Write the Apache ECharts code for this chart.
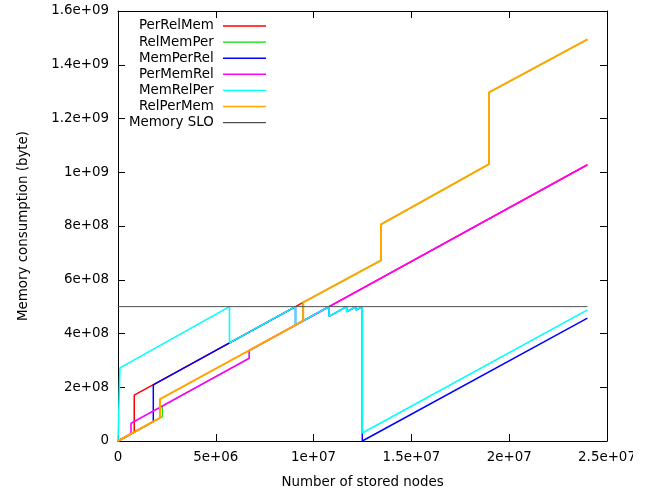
<!DOCTYPE html>
<html>
<head>
<meta charset="utf-8">
<script src="https://cdn.jsdelivr.net/npm/echarts@6/dist/echarts.min.js"></script>
<style>
html,body{margin:0;padding:0;background:#fff;}
#chart{width:633px;height:495px;}
</style>
</head>
<body>
<div id="chart"></div>
<script>
// Tick labels (gnuplot %g style)
const xTickLabels = ['0', '5e+06', '1e+07', '1.5e+07', '2e+07', '2.5e+07'];
const yTickLabels = ['0', '2e+08', '4e+08', '6e+08', '8e+08', '1e+09', '1.2e+09', '1.4e+09', '1.6e+09'];

// Series names
const seriesNames = ['PerRelMem', 'RelMemPer', 'MemPerRel', 'PerMemRel', 'MemRelPer', 'RelPerMem', 'Memory SLO'];

// Vertices [stored nodes, bytes]
const perRelMem = [[0, 0], [8.3e5, 3.3e7], [8.3e5, 1.71e8], [9.47e6, 5.16e8], [9.47e6, 4.47e8], [2.4e7, 1.028e9]];
const relMemPer = [[0, 0], [2.265e6, 9.06e7], [2.265e6, 1.3e8], [6.71e6, 3.08e8], [6.71e6, 3.37e8], [9.47e6, 4.47e8],
  [9.47e6, 5.16e8], [1.3446e7, 6.72e8], [1.3446e7, 8.06e8], [1.8967e7, 1.03e9], [1.8967e7, 1.297e9], [2.4e7, 1.494e9]];
const memPerRel = [[0, 0], [1.805e6, 7.22e7], [1.805e6, 2.09e8], [9.075e6, 5.0e8], [9.075e6, 4.32e8], [1.079e7, 5.0e8],
  [1.079e7, 4.64e8], [1.169e7, 5.0e8], [1.169e7, 4.81e8], [1.2165e7, 5.0e8], [1.2165e7, 4.87e8], [1.249e7, 5.0e8],
  [1.249e7, 0], [2.4e7, 4.57e8]];
const perMemRel = [[0, 0], [6.65e5, 2.66e7], [6.65e5, 6.59e7], [6.71e6, 3.08e8], [6.71e6, 3.37e8], [2.4e7, 1.028e9]];
const memRelPer = [[0, 0], [1e5, 4e6], [1e5, 2.72e8], [5.7e6, 5.0e8], [5.7e6, 3.65e8], [9.075e6, 5.0e8], [9.075e6, 4.32e8],
  [1.079e7, 5.0e8], [1.079e7, 4.64e8], [1.169e7, 5.0e8], [1.169e7, 4.81e8], [1.2165e7, 5.0e8], [1.2165e7, 4.87e8],
  [1.249e7, 5.0e8], [1.249e7, 3.0e7], [2.4e7, 4.88e8]];
const relPerMem = [[0, 0], [2.147e6, 8.59e7], [2.147e6, 1.556e8], [9.47e6, 4.47e8], [9.47e6, 5.16e8], [1.3446e7, 6.72e8],
  [1.3446e7, 8.06e8], [1.8967e7, 1.03e9], [1.8967e7, 1.297e9], [2.4e7, 1.494e9]];
const memorySLO = [[0, 5e8], [2.4e7, 5e8]];

const seriesData = [perRelMem, relMemPer, memPerRel, perMemRel, memRelPer, relPerMem, memorySLO];
const seriesColors = ['#ff0000', '#00dd00', '#0000ff', '#ff00ff', '#00ffff', '#ffa500', '#505050'];
const seriesWidths = [1.5, 1.2, 1.5, 1.6, 1.6, 2.0, 1];

const FONT = 'DejaVu Sans';
const FS = 13.4;
const X_INT = 5e6, Y_INT = 2e8;

const chart = echarts.init(document.getElementById('chart'), null, {renderer: 'canvas'});

function xAxisCfg(pos, labels) {
  return {
    type: 'value', position: pos, min: 0, max: 2.5e7, interval: X_INT,
    axisLine: {show: true, onZero: false, lineStyle: {color: '#000', width: 1}},
    axisTick: {show: true, inside: true, length: 7, lineStyle: {color: '#000', width: 1}},
    axisLabel: {show: labels, margin: 10, color: '#000', fontFamily: FONT, fontSize: FS,
      formatter: v => xTickLabels[Math.round(v / X_INT)]},
    splitLine: {show: false}
  };
}
function yAxisCfg(pos, labels) {
  return {
    type: 'value', position: pos, min: 0, max: 1.6e9, interval: Y_INT,
    axisLine: {show: true, onZero: false, lineStyle: {color: '#000', width: 1}},
    axisTick: {show: true, inside: true, length: 7, lineStyle: {color: '#000', width: 1}},
    axisLabel: {show: labels, margin: 9, color: '#000', fontFamily: FONT, fontSize: FS,
      formatter: v => yTickLabels[Math.round(v / Y_INT)]},
    splitLine: {show: false}
  };
}

const xMain = xAxisCfg('bottom', true);
xMain.name = 'Number of stored nodes';
xMain.nameLocation = 'middle';
xMain.nameGap = 35;
xMain.nameMoveOverlap = false;
xMain.nameTextStyle = {color: '#000', fontFamily: FONT, fontSize: FS};
const yMain = yAxisCfg('left', true);
yMain.name = 'Memory consumption (byte)';
yMain.nameLocation = 'middle';
yMain.nameGap = 88;
yMain.nameMoveOverlap = false;
yMain.nameTextStyle = {color: '#000', fontFamily: FONT, fontSize: FS};

chart.setOption({
  animation: false,
  backgroundColor: '#fff',
  grid: {left: 118, right: 26, top: 11, bottom: 54, containLabel: false, outerBoundsMode: 'none'},
  xAxis: [xMain, xAxisCfg('top', false)],
  yAxis: [yMain, yAxisCfg('right', false)],
  legend: {
    show: true, orient: 'vertical', align: 'right', left: 129, top: 18, padding: 0,
    icon: 'rect', itemWidth: 43, itemHeight: 1.4, itemGap: 0.1,
    textStyle: {color: '#000', fontFamily: FONT, fontSize: FS, lineHeight: 16},
    formatter: n => n + ' ',
    data: seriesNames
  },
  series: seriesNames.map((name, i) => ({
    name: name, type: 'line', xAxisIndex: 0, yAxisIndex: 0,
    data: seriesData[i], symbol: 'none', showSymbol: false,
    color: seriesColors[i],
    lineStyle: {color: seriesColors[i], width: seriesWidths[i]},
    itemStyle: {color: seriesColors[i]},
    emphasis: {disabled: true}
  }))
});
</script>
</body>
</html>
